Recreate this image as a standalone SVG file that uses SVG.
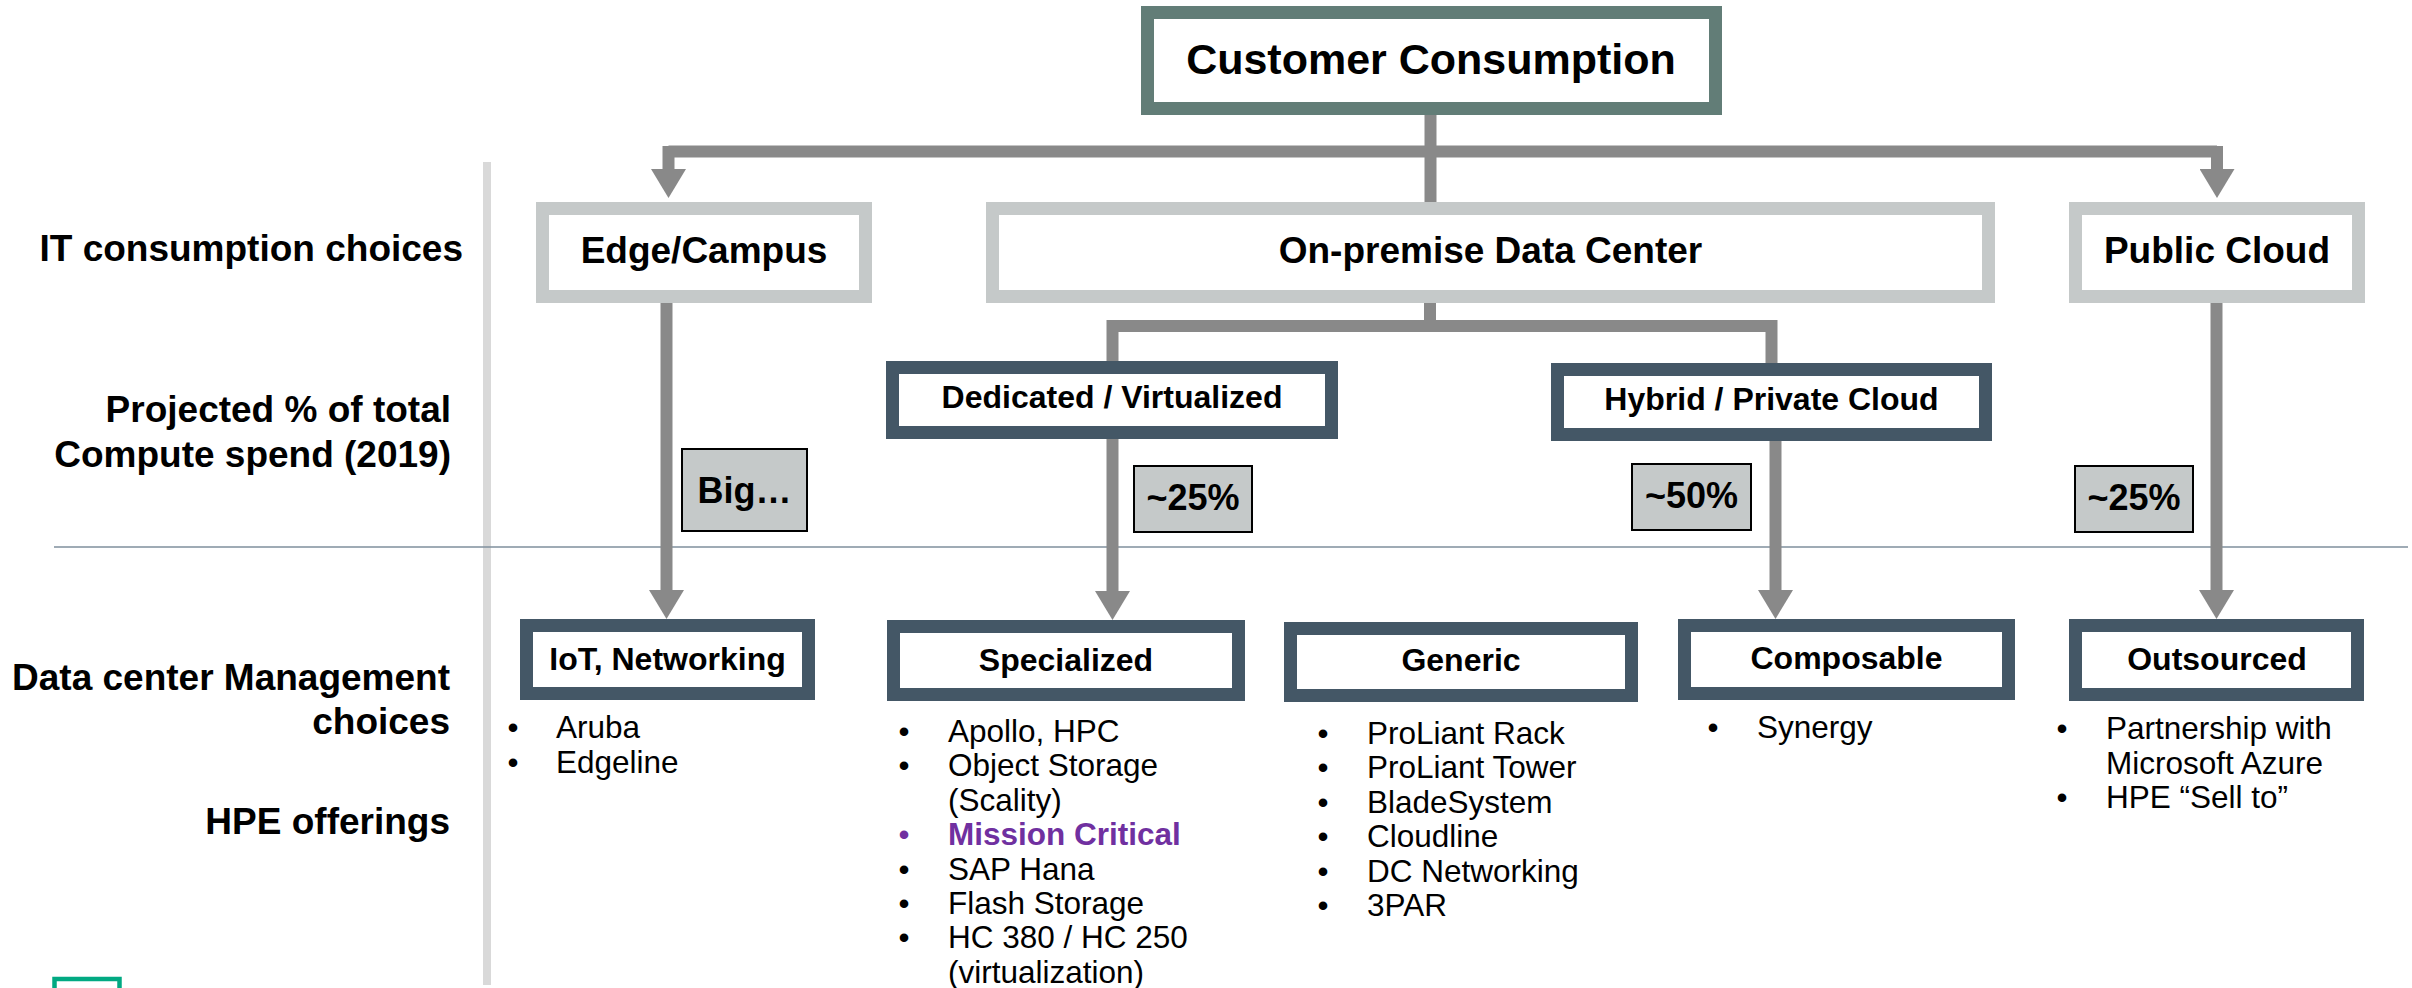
<svg xmlns="http://www.w3.org/2000/svg" width="2412" height="988" viewBox="0 0 2412 988">
<defs>
<style>
text{font-family:"Liberation Sans",Arial,sans-serif;fill:#000}
.lbl{font-weight:bold;font-size:37px;text-anchor:end}
.h1{font-weight:bold;font-size:37px;text-anchor:middle}
.h0{font-weight:bold;font-size:43px;text-anchor:middle}
.h2{font-weight:bold;font-size:32px;text-anchor:middle}
.pct{font-weight:bold;font-size:36px;text-anchor:middle}
.li{font-size:31.5px}
.bul{font-size:31.5px;text-anchor:middle}
.mc{fill:#7030A0;font-weight:bold}
.mcb{fill:#7030A0}
.top{fill:#fff;stroke:#627D77;stroke-width:13}
.lg{fill:#fff;stroke:#C5C9C9;stroke-width:13}
.dk{fill:#fff;stroke:#445766;stroke-width:13}
.pbox{fill:#C5C9C9;stroke:#000;stroke-width:2}
.con{fill:none;stroke:#898989;stroke-width:12}
</style>
<marker id="ah" viewBox="0 0 29 35" refX="0" refY="17.5" markerWidth="29" markerHeight="35" markerUnits="userSpaceOnUse" orient="auto">
<path d="M0,0 L29,17.5 L0,35 Z" fill="#898989"/>
</marker>
</defs>
<rect x="0" y="0" width="2412" height="988" fill="#fff"/>

<g id="guides">
<line x1="487" y1="162" x2="487" y2="985" stroke="#D9D9D9" stroke-width="8"/>
<line x1="54" y1="547" x2="2408" y2="547" stroke="#7F8F9C" stroke-width="1.6"/>
<rect x="54.5" y="979" width="65" height="30" fill="none" stroke="#01A982" stroke-width="4.5"/>
</g>

<g id="row-labels">
<text class="lbl" x="463" y="261">IT consumption choices</text>
<text class="lbl" x="451" y="422">Projected % of total</text>
<text class="lbl" x="451" y="467">Compute spend (2019)</text>
<text class="lbl" x="450" y="690">Data center Management</text>
<text class="lbl" x="450" y="734">choices</text>
<text class="lbl" x="450" y="834">HPE offerings</text>
</g>

<g id="connectors">
<path class="con" d="M1430.5,115 V204"/>
<path class="con" d="M668.5,151.5 H2217"/>
<path class="con" d="M668.5,146 V169" marker-end="url(#ah)"/>
<path class="con" d="M2217,146 V169" marker-end="url(#ah)"/>
<path class="con" d="M1430,303 V326"/>
<path class="con" d="M1112.5,326 H1771.5"/>
<path class="con" d="M1112.5,320 V363"/>
<path class="con" d="M1771.5,320 V365"/>
<path class="con" d="M666.5,296 V590" marker-end="url(#ah)"/>
<path class="con" d="M1112.5,439 V591" marker-end="url(#ah)"/>
<path class="con" d="M1775.5,441 V590" marker-end="url(#ah)"/>
<path class="con" d="M2216.5,303 V590" marker-end="url(#ah)"/>
</g>

<g id="customer-consumption">
<rect class="top" x="1147.5" y="12.5" width="568" height="96"/>
<text class="h0" x="1431" y="74">Customer Consumption</text>
</g>

<g id="edge-campus">
<rect class="lg" x="542.5" y="208.5" width="323" height="88"/>
<text class="h1" x="704" y="263">Edge/Campus</text>
</g>
<g id="on-premise">
<rect class="lg" x="992.5" y="208.5" width="996" height="88"/>
<text class="h1" x="1490.5" y="263">On-premise Data Center</text>
</g>
<g id="public-cloud">
<rect class="lg" x="2075.5" y="208.5" width="283" height="88"/>
<text class="h1" x="2217" y="263">Public Cloud</text>
</g>

<g id="dedicated">
<rect class="dk" x="892.5" y="367.5" width="439" height="65"/>
<text class="h2" x="1112" y="408">Dedicated / Virtualized</text>
</g>
<g id="hybrid">
<rect class="dk" x="1557.5" y="369.5" width="428" height="65"/>
<text class="h2" x="1771.5" y="410">Hybrid / Private Cloud</text>
</g>

<g id="pct-big">
<rect class="pbox" x="682" y="449" width="125" height="82"/>
<text class="pct" x="744.5" y="503">Big…</text>
</g>
<g id="pct-dedicated">
<rect class="pbox" x="1134" y="466" width="118" height="66"/>
<text class="pct" x="1193" y="510">~25%</text>
</g>
<g id="pct-hybrid">
<rect class="pbox" x="1632" y="464" width="119" height="66"/>
<text class="pct" x="1691.5" y="508">~50%</text>
</g>
<g id="pct-public">
<rect class="pbox" x="2075" y="466" width="118" height="66"/>
<text class="pct" x="2134" y="510">~25%</text>
</g>

<g id="iot">
<rect class="dk" x="526.5" y="625.5" width="282" height="68"/>
<text class="h2" x="667.5" y="670">IoT, Networking</text>
<text class="bul" x="513" y="738">•</text><text class="li" x="556" y="738">Aruba</text>
<text class="bul" x="513" y="773">•</text><text class="li" x="556" y="773">Edgeline</text>
</g>

<g id="specialized">
<rect class="dk" x="893.5" y="626.5" width="345" height="68"/>
<text class="h2" x="1066" y="671">Specialized</text>
<text class="bul" x="904" y="742">•</text><text class="li" x="948" y="742">Apollo, HPC</text>
<text class="bul" x="904" y="776.4">•</text><text class="li" x="948" y="776.4">Object Storage</text>
<text class="li" x="948" y="810.8">(Scality)</text>
<text class="bul mcb" x="904" y="845.2">•</text><text class="li mc" x="948" y="845.2">Mission Critical</text>
<text class="bul" x="904" y="879.6">•</text><text class="li" x="948" y="879.6">SAP Hana</text>
<text class="bul" x="904" y="914">•</text><text class="li" x="948" y="914">Flash Storage</text>
<text class="bul" x="904" y="948.4">•</text><text class="li" x="948" y="948.4">HC 380 / HC 250</text>
<text class="li" x="948" y="982.8">(virtualization)</text>
</g>

<g id="generic">
<rect class="dk" x="1290.5" y="628.5" width="341" height="67"/>
<text class="h2" x="1461" y="671">Generic</text>
<text class="bul" x="1323" y="744">•</text><text class="li" x="1367" y="744">ProLiant Rack</text>
<text class="bul" x="1323" y="778.4">•</text><text class="li" x="1367" y="778.4">ProLiant Tower</text>
<text class="bul" x="1323" y="812.8">•</text><text class="li" x="1367" y="812.8">BladeSystem</text>
<text class="bul" x="1323" y="847.2">•</text><text class="li" x="1367" y="847.2">Cloudline</text>
<text class="bul" x="1323" y="881.6">•</text><text class="li" x="1367" y="881.6">DC Networking</text>
<text class="bul" x="1323" y="916">•</text><text class="li" x="1367" y="916">3PAR</text>
</g>

<g id="composable">
<rect class="dk" x="1684.5" y="625.5" width="324" height="68"/>
<text class="h2" x="1846.5" y="669">Composable</text>
<text class="bul" x="1713" y="738">•</text><text class="li" x="1757" y="738">Synergy</text>
</g>

<g id="outsourced">
<rect class="dk" x="2075.5" y="625.5" width="282" height="69"/>
<text class="h2" x="2217" y="670">Outsourced</text>
<text class="bul" x="2062" y="739">•</text><text class="li" x="2106" y="739">Partnership with</text>
<text class="li" x="2106" y="773.5">Microsoft Azure</text>
<text class="bul" x="2062" y="808">•</text><text class="li" x="2106" y="808">HPE “Sell to”</text>
</g>
</svg>
